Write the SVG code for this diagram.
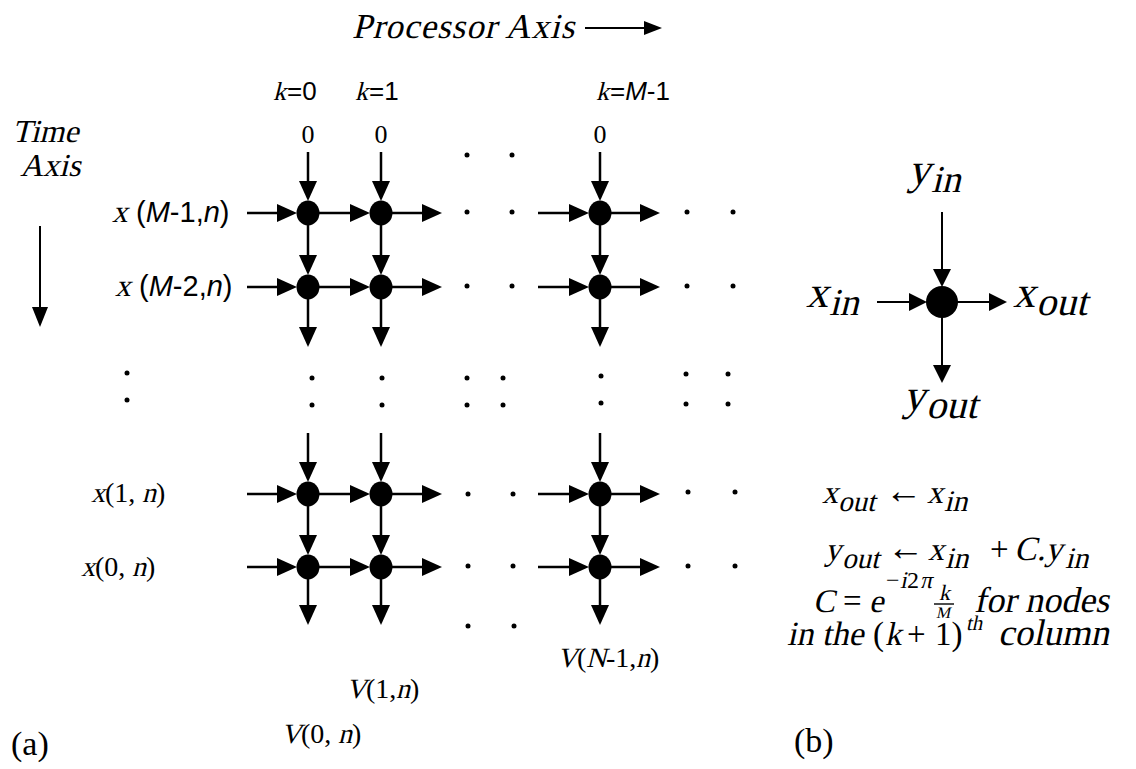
<svg xmlns="http://www.w3.org/2000/svg" width="1136" height="769" viewBox="0 0 1136 769">
<defs>
<style>
.sr{font-family:"Liberation Serif","Times New Roman",serif;font-style:normal}
.ss{font-family:"Liberation Sans",Arial,sans-serif;font-style:normal}
.ss-i{font-family:"Liberation Sans",Arial,sans-serif;font-style:italic}
.ln{stroke:#000;stroke-width:2.5;fill:none}
.lnb{stroke:#000;stroke-width:2;fill:none}
.g{marker-end:url(#ah)}
.b{marker-end:url(#ahb)}
.nd{fill:#000}
.dot{fill:#000}
text{fill:#000}
</style>
<marker id="ah" markerUnits="userSpaceOnUse" markerWidth="20" markerHeight="18" refX="15" refY="9" orient="auto"><path d="M0,0 L20,9 L0,18 z" fill="#000"/></marker>
<marker id="ahb" markerUnits="userSpaceOnUse" markerWidth="18" markerHeight="18" refX="13" refY="9" orient="auto"><path d="M0,0 L18,9 L0,18 z" fill="#000"/></marker>
<marker id="ahs" markerUnits="userSpaceOnUse" markerWidth="18" markerHeight="14" refX="13" refY="7" orient="auto"><path d="M0,0 L18,7 L0,14 z" fill="#000"/></marker>
<marker id="aht" markerUnits="userSpaceOnUse" markerWidth="20" markerHeight="16" refX="15" refY="8" orient="auto"><path d="M0,0 L20,8 L0,16 z" fill="#000"/></marker>
</defs>
<rect width="1136" height="769" fill="#fff"/>

<!-- axis titles -->
<g id="processor-axis">
<text class="sr" transform="translate(352,38) skewX(-14)" font-size="35" textLength="222" lengthAdjust="spacing">Processor Axis</text>
<line x1="585" y1="28" x2="657" y2="28" class="lnb" marker-end="url(#ahs)"/>
</g>
<g id="time-axis">
<text class="sr" transform="translate(12,142) skewX(-14)" font-size="32">Time</text>
<text class="sr" transform="translate(20,176) skewX(-14)" font-size="32">Axis</text>
<line x1="40" y1="226" x2="40" y2="322" class="lnb" marker-end="url(#aht)"/>
</g>

<!-- column labels -->
<g id="col-labels" font-size="26">
<text class="sr" transform="translate(273,100) skewX(-14)">k</text><text class="ss" x="287" y="100">=0</text>
<text class="sr" transform="translate(355,100) skewX(-14)">k</text><text class="ss" x="369" y="100">=1</text>
<text class="sr" transform="translate(596,100) skewX(-14)">k</text><text x="610" y="100"><tspan class="ss">=</tspan><tspan class="ss-i">M</tspan><tspan class="ss">-1</tspan></text>
<text class="sr" x="308" y="143" font-size="26" text-anchor="middle">0</text>
<text class="sr" x="381" y="143" font-size="26" text-anchor="middle">0</text>
<text class="sr" x="600" y="143" font-size="26" text-anchor="middle">0</text>
</g>

<!-- row labels -->
<g id="row-labels">
<text class="sr" transform="translate(112,222) skewX(-14)" font-size="31">x</text>
<text x="136" y="222" font-size="29"><tspan class="ss">(</tspan><tspan class="ss-i">M</tspan><tspan class="ss">-1,</tspan><tspan class="ss-i">n</tspan><tspan class="ss">)</tspan></text>
<text class="sr" transform="translate(115,296) skewX(-14)" font-size="31">x</text>
<text x="139" y="296" font-size="29"><tspan class="ss">(</tspan><tspan class="ss-i">M</tspan><tspan class="ss">-2,</tspan><tspan class="ss-i">n</tspan><tspan class="ss">)</tspan></text>
<g font-size="28">
<text class="sr" transform="translate(91,502) skewX(-14)">x</text><text class="sr" x="105" y="502">(1, </text><text class="sr" transform="translate(142,502) skewX(-14)">n</text><text class="sr" x="156" y="502">)</text>
<text class="sr" transform="translate(81,576) skewX(-14)">x</text><text class="sr" x="95" y="576">(0, </text><text class="sr" transform="translate(132,576) skewX(-14)">n</text><text class="sr" x="146" y="576">)</text>
</g>
</g>

<!-- output labels -->
<g id="out-labels" font-size="28">
<text class="sr" transform="translate(557,667) skewX(-14)">V</text><text class="sr" x="577" y="667">(</text><text class="sr" transform="translate(586,667) skewX(-14)">N</text><text class="sr" x="606" y="667">-1,</text><text class="sr" transform="translate(636,667) skewX(-14)">n</text><text class="sr" x="650" y="667">)</text>
<text class="sr" transform="translate(346,698) skewX(-14)">V</text><text class="sr" x="366" y="698">(1,</text><text class="sr" transform="translate(396,698) skewX(-14)">n</text><text class="sr" x="410" y="698">)</text>
<text class="sr" transform="translate(281,743) skewX(-14)">V</text><text class="sr" x="301" y="743">(0, </text><text class="sr" transform="translate(338,743) skewX(-14)">n</text><text class="sr" x="352" y="743">)</text>
</g>

<!-- connectors -->
<g id="connectors">
<line class="ln g" x1="247" y1="213" x2="292" y2="213"/>
<line class="ln g" x1="319" y1="213" x2="365" y2="213"/>
<line class="ln g" x1="392" y1="213" x2="437" y2="213"/>
<line class="ln g" x1="538" y1="213" x2="584" y2="213"/>
<line class="ln g" x1="611" y1="213" x2="655" y2="213"/>
<line class="ln g" x1="247" y1="287" x2="292" y2="287"/>
<line class="ln g" x1="319" y1="287" x2="365" y2="287"/>
<line class="ln g" x1="392" y1="287" x2="437" y2="287"/>
<line class="ln g" x1="538" y1="287" x2="584" y2="287"/>
<line class="ln g" x1="611" y1="287" x2="655" y2="287"/>
<line class="ln g" x1="247" y1="494" x2="292" y2="494"/>
<line class="ln g" x1="319" y1="494" x2="365" y2="494"/>
<line class="ln g" x1="392" y1="494" x2="437" y2="494"/>
<line class="ln g" x1="538" y1="494" x2="584" y2="494"/>
<line class="ln g" x1="611" y1="494" x2="655" y2="494"/>
<line class="ln g" x1="247" y1="567" x2="292" y2="567"/>
<line class="ln g" x1="319" y1="567" x2="365" y2="567"/>
<line class="ln g" x1="392" y1="567" x2="437" y2="567"/>
<line class="ln g" x1="538" y1="567" x2="584" y2="567"/>
<line class="ln g" x1="611" y1="567" x2="655" y2="567"/>
<line class="ln g" x1="308" y1="152" x2="308" y2="196"/>
<line class="ln g" x1="308" y1="225" x2="308" y2="270"/>
<line class="ln g" x1="308" y1="299" x2="308" y2="342"/>
<line class="ln g" x1="381" y1="152" x2="381" y2="196"/>
<line class="ln g" x1="381" y1="225" x2="381" y2="270"/>
<line class="ln g" x1="381" y1="299" x2="381" y2="342"/>
<line class="ln g" x1="600" y1="152" x2="600" y2="196"/>
<line class="ln g" x1="600" y1="225" x2="600" y2="270"/>
<line class="ln g" x1="600" y1="299" x2="600" y2="342"/>
<line class="ln g" x1="308" y1="433" x2="308" y2="477"/>
<line class="ln g" x1="308" y1="506" x2="308" y2="550"/>
<line class="ln g" x1="308" y1="579" x2="308" y2="620"/>
<line class="ln g" x1="381" y1="433" x2="381" y2="477"/>
<line class="ln g" x1="381" y1="506" x2="381" y2="550"/>
<line class="ln g" x1="381" y1="579" x2="381" y2="620"/>
<line class="ln g" x1="600" y1="433" x2="600" y2="477"/>
<line class="ln g" x1="600" y1="506" x2="600" y2="550"/>
<line class="ln g" x1="600" y1="579" x2="600" y2="620"/>
<line class="lnb b" x1="942" y1="212" x2="942" y2="282"/>
<line class="lnb b" x1="877" y1="302" x2="922" y2="302"/>
<line class="lnb b" x1="957" y1="302" x2="1002" y2="302"/>
<line class="lnb b" x1="942" y1="317" x2="942" y2="378"/>
</g>

<!-- nodes -->
<g id="node-0-0"><ellipse class="nd" cx="308" cy="213" rx="11.5" ry="12.5"/></g>
<g id="node-0-1"><ellipse class="nd" cx="381" cy="213" rx="11.5" ry="12.5"/></g>
<g id="node-0-m"><ellipse class="nd" cx="600" cy="213" rx="11.5" ry="12.5"/></g>
<g id="node-1-0"><ellipse class="nd" cx="308" cy="287" rx="11.5" ry="12.5"/></g>
<g id="node-1-1"><ellipse class="nd" cx="381" cy="287" rx="11.5" ry="12.5"/></g>
<g id="node-1-m"><ellipse class="nd" cx="600" cy="287" rx="11.5" ry="12.5"/></g>
<g id="node-2-0"><ellipse class="nd" cx="308" cy="494" rx="11.5" ry="12.5"/></g>
<g id="node-2-1"><ellipse class="nd" cx="381" cy="494" rx="11.5" ry="12.5"/></g>
<g id="node-2-m"><ellipse class="nd" cx="600" cy="494" rx="11.5" ry="12.5"/></g>
<g id="node-3-0"><ellipse class="nd" cx="308" cy="567" rx="11.5" ry="12.5"/></g>
<g id="node-3-1"><ellipse class="nd" cx="381" cy="567" rx="11.5" ry="12.5"/></g>
<g id="node-3-m"><ellipse class="nd" cx="600" cy="567" rx="11.5" ry="12.5"/></g>
<g id="node-b"><circle class="nd" cx="942" cy="302" r="16"/></g>

<!-- ellipsis dots -->
<g id="dots">
<circle class="dot" cx="467" cy="155" r="2.5"/><circle class="dot" cx="512" cy="155" r="2.5"/>
<circle class="dot" cx="467" cy="212" r="2.5"/><circle class="dot" cx="512" cy="212" r="2.5"/><circle class="dot" cx="687" cy="212" r="2.5"/><circle class="dot" cx="733" cy="212" r="2.5"/>
<circle class="dot" cx="467" cy="286" r="2.5"/><circle class="dot" cx="512" cy="286" r="2.5"/><circle class="dot" cx="687" cy="286" r="2.5"/><circle class="dot" cx="733" cy="286" r="2.5"/>
<circle class="dot" cx="127" cy="373" r="2.5"/><circle class="dot" cx="127" cy="400" r="2.5"/>
<circle class="dot" cx="312" cy="378" r="2.5"/><circle class="dot" cx="312" cy="405" r="2.5"/>
<circle class="dot" cx="382" cy="378" r="2.5"/><circle class="dot" cx="382" cy="405" r="2.5"/>
<circle class="dot" cx="467" cy="378" r="2.5"/><circle class="dot" cx="467" cy="405" r="2.5"/>
<circle class="dot" cx="503" cy="378" r="2.5"/><circle class="dot" cx="503" cy="405" r="2.5"/>
<circle class="dot" cx="601" cy="376" r="2.5"/><circle class="dot" cx="601" cy="403" r="2.5"/>
<circle class="dot" cx="686" cy="374" r="2.5"/><circle class="dot" cx="686" cy="404" r="2.5"/>
<circle class="dot" cx="728" cy="374" r="2.5"/><circle class="dot" cx="728" cy="404" r="2.5"/>
<circle class="dot" cx="468" cy="494" r="2.5"/><circle class="dot" cx="513" cy="494" r="2.5"/><circle class="dot" cx="688" cy="492" r="2.5"/><circle class="dot" cx="735" cy="492" r="2.5"/>
<circle class="dot" cx="468" cy="566" r="2.5"/><circle class="dot" cx="513" cy="566" r="2.5"/><circle class="dot" cx="688" cy="566" r="2.5"/><circle class="dot" cx="735" cy="566" r="2.5"/>
<circle class="dot" cx="468" cy="626" r="2.5"/><circle class="dot" cx="514" cy="626" r="2.5"/>
</g>

<!-- panel b labels -->
<g id="panel-b-labels" class="sr">
<text transform="translate(908,184) skewX(-14)" font-size="44">y</text><text transform="translate(931,192) skewX(-14)" font-size="38">in</text>
<text transform="translate(806,307) skewX(-14)" font-size="44">x</text><text transform="translate(829,315) skewX(-14)" font-size="38">in</text>
<text transform="translate(1013,307) skewX(-14)" font-size="44">x</text><text transform="translate(1036,315) skewX(-14)" font-size="40">out</text>
<text transform="translate(903,410) skewX(-14)" font-size="44">y</text><text transform="translate(926,418) skewX(-14)" font-size="40">out</text>
</g>

<!-- equations -->
<g id="equations" class="sr">
<!-- line 1 -->
<text transform="translate(822,503) skewX(-14)" font-size="32">x</text>
<text transform="translate(838,511) skewX(-14)" font-size="29">out</text>
<text x="885" y="503" font-size="37">←</text>
<text transform="translate(927,503) skewX(-14)" font-size="32">x</text>
<text transform="translate(944,511) skewX(-14)" font-size="30">in</text>
<!-- line 2 -->
<text transform="translate(825,560) skewX(-14)" font-size="32">y</text>
<text transform="translate(842,568) skewX(-14)" font-size="29">out</text>
<text x="887" y="560" font-size="37">←</text>
<text transform="translate(928,560) skewX(-14)" font-size="32">x</text>
<text transform="translate(945,568) skewX(-14)" font-size="30">in</text>
<text x="990" y="560" font-size="33">+</text>
<text transform="translate(1014,560) skewX(-14)" font-size="34">C.y</text>
<text transform="translate(1065,568) skewX(-14)" font-size="30">in</text>
<!-- line 3 -->
<text transform="translate(813,612) skewX(-12)" font-size="33">C</text>
<text x="843" y="612" font-size="33">=</text>
<text transform="translate(869,612) skewX(-12)" font-size="33">e</text>
<text x="886" y="588" font-size="24">−</text>
<text transform="translate(900,588) skewX(-12)" font-size="24">i</text>
<text x="907" y="588" font-size="24">2</text>
<text transform="translate(920,588) skewX(-12)" font-size="24">π</text>
<text transform="translate(939,600) skewX(-12)" font-size="22">k</text>
<text transform="translate(936,618) skewX(-12)" font-size="16">M</text>
<line x1="934" y1="604" x2="954" y2="604" stroke="#000" stroke-width="1.4"/>
<text transform="translate(974,612) skewX(-12)" font-size="36">for nodes</text>
<!-- line 4 -->
<text transform="translate(787,645) skewX(-12)" font-size="34">in the</text>
<text x="873" y="645" font-size="33">(</text>
<text transform="translate(885,645) skewX(-12)" font-size="33">k</text>
<text x="907" y="645" font-size="33">+</text>
<text x="935" y="645" font-size="33">1)</text>
<text transform="translate(966,630) skewX(-12)" font-size="21">th</text>
<text transform="translate(998,645) skewX(-12)" font-size="37">column</text>
</g>

<!-- panel captions -->
<g id="captions">
<text class="sr" x="11" y="755" font-size="34">(a)</text>
<text class="sr" x="794" y="752" font-size="34">(b)</text>
</g>
</svg>
